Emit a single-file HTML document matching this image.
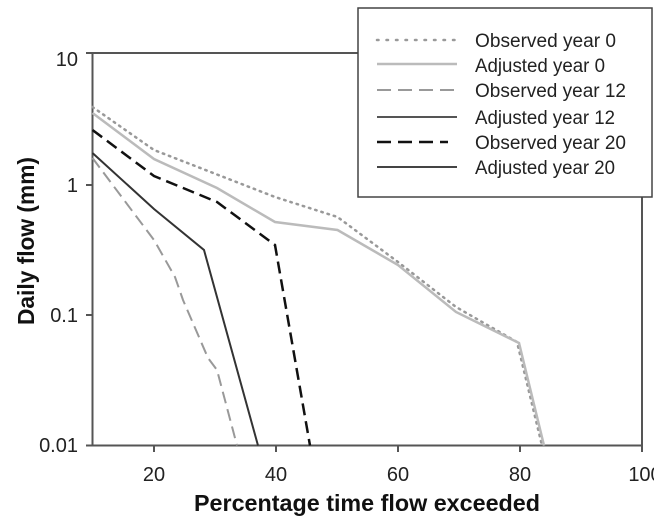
<!DOCTYPE html>
<html><head><meta charset="utf-8"><style>
html,body{margin:0;padding:0;background:#fff;}
svg{display:block;font-family:"Liberation Sans",Arial,sans-serif;}
</style></head><body>
<svg width="654" height="519" viewBox="0 0 654 519" xmlns="http://www.w3.org/2000/svg">
<rect width="654" height="519" fill="#fff"/>
<polyline points="92.5,53 92.5,445.5 642,445.5 642,197" fill="none" stroke="#555" stroke-width="2"/>
<line x1="92.5" y1="53" x2="358" y2="53" stroke="#555" stroke-width="2"/>
<g stroke="#555" stroke-width="2">
<line x1="86" y1="53" x2="92.5" y2="53"/>
<line x1="86" y1="185" x2="92.5" y2="185"/>
<line x1="86" y1="315" x2="92.5" y2="315"/>
<line x1="86" y1="445.5" x2="92.5" y2="445.5"/>
<line x1="154" y1="445.5" x2="154" y2="452"/>
<line x1="276" y1="445.5" x2="276" y2="452"/>
<line x1="398" y1="445.5" x2="398" y2="452"/>
<line x1="520" y1="445.5" x2="520" y2="452"/>
<line x1="642" y1="445.5" x2="642" y2="452"/>
</g>
<g font-size="20" fill="#222" text-anchor="end">
<text x="78" y="66">10</text>
<text x="78" y="192">1</text>
<text x="78" y="322">0.1</text>
<text x="78" y="452">0.01</text>
</g>
<g font-size="20" fill="#222" text-anchor="middle">
<text x="154" y="481">20</text>
<text x="276" y="481">40</text>
<text x="398" y="481">60</text>
<text x="520" y="481">80</text>
<text x="645" y="481">100</text>
</g>
<text x="367" y="511" font-size="23" font-weight="bold" text-anchor="middle" fill="#111" textLength="346" lengthAdjust="spacingAndGlyphs">Percentage time flow exceeded</text>
<text transform="translate(34,241) rotate(-90)" font-size="23" font-weight="bold" text-anchor="middle" fill="#111" textLength="168" lengthAdjust="spacingAndGlyphs">Daily flow (mm)</text>
<polyline fill="none" stroke="#999" stroke-width="2.5" stroke-dasharray="1.5,5" stroke-linecap="round"
 points="92.5,107 154,150 275,197 337.5,217 398,262 456,307 517,342 542,445.5"/>
<polyline fill="none" stroke="#bbb" stroke-width="2.5"
 points="92.5,113 154,159 217,188 275,222 337.5,230 398,265 456,312 519,343 544,445.5"/>
<polyline fill="none" stroke="#999" stroke-width="2" stroke-dasharray="12,6"
 points="92.5,158 154,240 175,277 183,300 208,358 217,370 237,445.5"/>
<polyline fill="none" stroke="#333" stroke-width="2"
 points="92.5,153 154,209 204,250 258,445.5"/>
<polyline fill="none" stroke="#111" stroke-width="2.5" stroke-dasharray="12,6"
 points="92.5,130 154,176 217,202 275,245 310,445.5"/>
<rect x="358" y="8" width="294" height="189" fill="#fff" stroke="#444" stroke-width="1.5"/>
<g stroke-width="2">
<line x1="377" y1="40" x2="457" y2="40" stroke="#999" stroke-width="2.5" stroke-dasharray="1.5,8" stroke-linecap="round"/>
<line x1="377" y1="64" x2="457" y2="64" stroke="#bbb" stroke-width="2.5"/>
<line x1="377" y1="90" x2="457" y2="90" stroke="#999" stroke-dasharray="14,7"/>
<line x1="377" y1="117" x2="457" y2="117" stroke="#555"/>
<line x1="377" y1="142" x2="448" y2="142" stroke="#111" stroke-width="2.5" stroke-dasharray="14,7"/>
<line x1="377" y1="167" x2="457" y2="167" stroke="#444"/>
</g>
<g font-size="19" fill="#222">
<text x="475" y="47" textLength="141" lengthAdjust="spacingAndGlyphs">Observed year 0</text>
<text x="475" y="72" textLength="130" lengthAdjust="spacingAndGlyphs">Adjusted year 0</text>
<text x="475" y="97" textLength="151" lengthAdjust="spacingAndGlyphs">Observed year 12</text>
<text x="475" y="124" textLength="140" lengthAdjust="spacingAndGlyphs">Adjusted year 12</text>
<text x="475" y="149" textLength="151" lengthAdjust="spacingAndGlyphs">Observed year 20</text>
<text x="475" y="174" textLength="140" lengthAdjust="spacingAndGlyphs">Adjusted year 20</text>
</g>
</svg>
</body></html>
